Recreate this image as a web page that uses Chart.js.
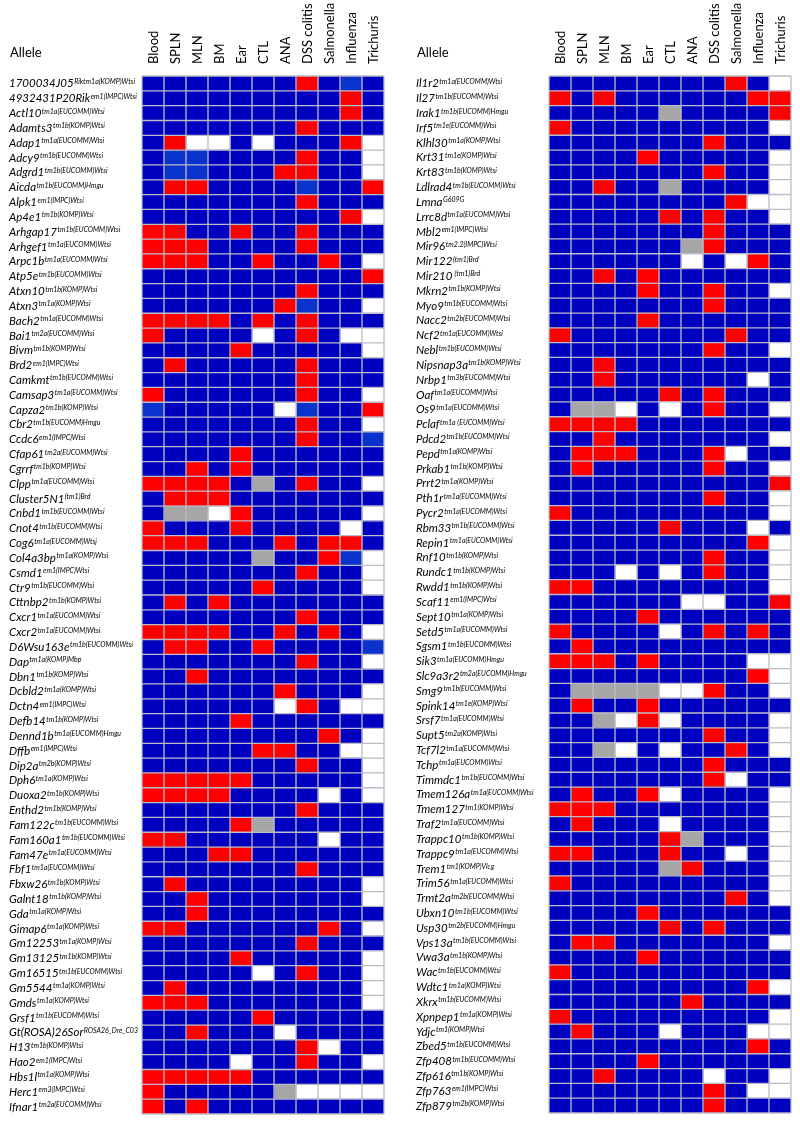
<!DOCTYPE html>
<html>
<head>
<meta charset="utf-8">
<script src="https://cdn.jsdelivr.net/npm/chart.js@4.4.1/dist/chart.umd.min.js"></script>
<style>
  body { margin: 0; background: #fff; width: 800px; height: 1131px; position: relative; overflow: hidden; }
  canvas { position: absolute; top: 0; }
  #leftChart { left: 0; }
  #rightChart { left: 400px; }
</style>
</head>
<body>
<canvas id="leftChart" width="392" height="1131"></canvas>
<canvas id="rightChart" width="400" height="1131"></canvas>
<script>
// phenotype screens (columns)
const columns = ["Blood", "SPLN", "MLN", "BM", "Ear", "CTL", "ANA", "DSS colitis", "Salmonella", "Influenza", "Trichuris"];

// call codes: B = no hit, R = hit, L = borderline, G = grey, W = not done
const callColors = {
    B: "#0000c0",
    R: "#ff0000",
    L: "#0a32cc",
    G: "#a6a6a6",
    W: "#ffffff",
};

const leftGenes = ["1700034J05", "4932431P20Rik", "Actl10", "Adamts3", "Adap1", "Adcy9", "Adgrd1", "Aicda", "Alpk1", "Ap4e1",
    "Arhgap17", "Arhgef1", "Arpc1b", "Atp5e", "Atxn10", "Atxn3", "Bach2", "Bai1", "Bivm", "Brd2",
    "Camkmt", "Camsap3", "Capza2", "Cbr2", "Ccdc6", "Cfap61", "Cgrrf", "Clpp", "Cluster5N1", "Cnbd1",
    "Cnot4", "Cog6", "Col4a3bp", "Csmd1", "Ctr9", "Cttnbp2", "Cxcr1", "Cxcr2", "D6Wsu163e", "Dap",
    "Dbn1", "Dcbld2", "Dctn4", "Defb14", "Dennd1b", "Dffb", "Dip2a", "Dph6", "Duoxa2", "Enthd2",
    "Fam122c", "Fam160a1", "Fam47e", "Fbf1", "Fbxw26", "Galnt18", "Gda", "Gimap6", "Gm12253", "Gm13125",
    "Gm16515", "Gm5544", "Gmds", "Grsf1", "Gt(ROSA)26Sor", "H13", "Hao2", "Hbs1l", "Herc1", "Ifnar1"];

const leftAlleles = ["Riktm1a(KOMP)Wtsi", "em1(IMPC)Wtsi", "tm1a(EUCOMM)Wtsi", "tm1b(KOMP)Wtsi", "tm1a(EUCOMM)Wtsi",
    "tm1b(EUCOMM)Wtsi", "tm1b(EUCOMM)Wtsi", "tm1b(EUCOMM)Hmgu", "em1(IMPC)Wtsi", "tm1b(KOMP)Wtsi",
    "tm1b(EUCOMM)Wtsi", "tm1a(EUCOMM)Wtsi", "tm1a(EUCOMM)Wtsi", "tm1b(EUCOMM)Wtsi", "tm1b(KOMP)Wtsi",
    "tm1a(KOMP)Wtsi", "tm1a(EUCOMM)Wtsi", "tm2a(EUCOMM)Wtsi", "tm1b(KOMP)Wtsi", "em1(IMPC)Wtsi",
    "tm1b(EUCOMM)Wtsi", "tm1a(EUCOMM)Wtsi", "tm1b(KOMP)Wtsi", "tm1b(EUCOMM)Hmgu", "em1(IMPC)Wtsi",
    "tm2a(EUCOMM)Wtsi", "tm1b(KOMP)Wtsi", "tm1a(EUCOMM)Wtsi", "(tm1)Brd", "tm1b(EUCOMM)Wtsi",
    "tm1b(EUCOMM)Wtsi", "tm1a(EUCOMM)Wtsj", "tm1a(KOMP)Wtsi", "em1(IMPC)Wtsi", "tm1b(EUCOMM)Wtsi",
    "tm1b(KOMP)Wtsi", "tm1a(EUCOMM)Wtsi", "tm1a(EUCOMM)Wtsi", "tm1b(EUCOMM)Wtsi", "tm1a(KOMP)Mbp",
    "tm1b(KOMP)Wtsi", "tm1a(KOMP)Wtsi", "em1(IMPC)Wtsi", "tm1b(KOMP)Wtsi", "tm1a(EUCOMM)Hmgu",
    "em1(IMPC)Wtsi", "tm2b(KOMP)Wtsi", "tm1a(KOMP)Wtsi", "tm1b(KOMP)Wtsi", "tm1b(KOMP)Wtsi",
    "tm1b(EUCOMM)Wtsi", "tm1b(EUCOMM)Wtsi", "tm1a(EUCOMM)Wtsi", "tm1a(EUCOMM)Wtsi", "tm1b(KOMP)Wtsi",
    "tm1b(KOMP)Wtsi", "tm1a(KOMP)Wtsi", "tm1a(KOMP)Wtsi", "tm1a(KOMP)Wtsi", "tm1b(KOMP)Wtsi",
    "tm1b(EUCOMM)Wtsi", "tm1a(KOMP)Wtsi", "tm1a(KOMP)Wtsi", "tm1b(EUCOMM)Wtsi", "ROSA26_Dre_C03",
    "tm1b(KOMP)Wtsi", "em1(IMPC)Wtsi", "tm1a(KOMP)Wtsi", "em3(IMPC)Wtsi", "tm2a(EUCOMM)Wtsi"];

const leftCalls = [
    "BBBBBBBRBLB", "BBBBBBBBBRB", "BBBBBBBBBRB", "BBBBBBBRBBB", "BRWWBWBBBRW",
    "BLLBBBBRBBW", "BLLBBBRRBBW", "BRRBBBBLBBR", "BBBBBBBRBBB", "BBBBBBBBBRW",
    "RRBBRBBRBBB", "RRRBBBBRBBB", "RRRBBRBBRBW", "BBBBBBBBBBR", "BBBBBBBRBBB",
    "BBBBBBRLBBW", "RRRRBRBRBBB", "RBBBBWBRBWW", "BBBBRBBBBBW", "BRBBBBBRBBB",
    "BBBBBBBRBBB", "RBBBBBBRBBW", "LBBBBBWLBBR", "BBBBBBBRBBW", "BBBBBBBRBBL",
    "BBBBRBBBBBB", "BBRBRBBBBBB", "RRRRBGBRBBW", "BRRRBBBBBBB", "BGGWRBBBBBW",
    "RBBBRBBBBWB", "RRRBBBRBRRB", "BBBBBGBBRLW", "BBBBBBBRBBW", "BBBBBRBBBBW",
    "BRBRBBBBBBB", "BBBBBBBRBBB", "RRRRBBRBRBW", "BRRBBRBBBBL", "BBBBBBBRBBW",
    "BBRBBBBBBBB", "BBBBBBRBBBW", "BBBBBBWRBWW", "BBBBRBBBBBB", "BBBBBBBBRBW",
    "BBBBBRRBBWW", "BBBBBBBRBBW", "RRRRRBBBBBW", "RRRRBBBBWBW", "BBBBBBBRBBB",
    "BBBBRGBBBBB", "RRBBBBBBWBB", "BBBRRBBBBBB", "BBBBBBBRBBB", "BRBBBBBBBBW",
    "BBRBBBBBBBW", "BBRBBBBBBBB", "RRBBBBBBRBW", "BBBBBBBRBBB", "BBBBRBBBBBW",
    "BBBBBWBRBBW", "BRBBBBBBBBW", "RRRBBBBBBBW", "BBBBBRBBBBB", "BBRBBBWBBBB",
    "BBBBBBBRWBB", "BBBBWBBRBBW", "RRRRRBBBBBB", "RBBBBBGWWWW", "RBRBBBBBBBB"];

const rightGenes = ["Il1r2", "Il27", "Irak1", "Irf5", "Klhl30", "Krt31", "Krt83", "Ldlrad4", "Lmna", "Lrrc8d",
    "Mbl2", "Mir96", "Mir122", "Mir210", "Mkrn2", "Myo9", "Nacc2", "Ncf2", "Nebl", "Nipsnap3a",
    "Nrbp1", "Oaf", "Os9", "Pclaf", "Pdcd2", "Pepd", "Prkab1", "Prrt2", "Pth1r", "Pycr2",
    "Rbm33", "Repin1", "Rnf10", "Rundc1", "Rwdd1", "Scaf11", "Sept10", "Setd5", "Sgsm1", "Sik3",
    "Slc9a3r2", "Smg9", "Spink14", "Srsf7", "Supt5", "Tcf7l2", "Tchp", "Timmdc1", "Tmem126a", "Tmem127",
    "Traf2", "Trappc10", "Trappc9", "Trem1", "Trim56", "Trmt2a", "Ubxn10", "Usp30", "Vps13a", "Vwa3a",
    "Wac", "Wdtc1", "Xkrx", "Xpnpep1", "Ydjc", "Zbed5", "Zfp408", "Zfp616", "Zfp763", "Zfp879"];

const rightAlleles = ["tm1a(EUCOMM)Wtsi", "tm1b(EUCOMM)Wtsi", "tm1b(EUCOMM)Hmgu", "tm1e(EUCOMM)Wtsi", "tm1a(KOMP)Wtsi",
    "tm1e(KOMP)Wtsi", "tm1b(KOMP)Wtsi", "tm1b(EUCOMM)Wtsi", "G609G", "tm1a(EUCOMM)Wtsi",
    "em1(IMPC)Wtsi", "tm2.2(IMPC)Wtsi", "(tm1)Brd", " (tm1)Brd", "tm1b(KOMP)Wtsi",
    "tm1b(EUCOMM)Wtsi", "tm2b(EUCOMM)Wtsi", "tm1a(EUCOMM)Wtsi", "tm1b(EUCOMM)Wtsi", "tm1b(KOMP)Wtsi",
    "tm3b(EUCOMM)Wtsi", "tm1a(EUCOMM)Wtsi", "tm1a(EUCOMM)Wtsi", "tm1a (EUCOMM)Wtsi", "tm1b(EUCOMM)Wtsi",
    "tm1a(KOMP)Wtsi", "tm1b(KOMP)Wtsi", "tm1a(KOMP)Wtsi", "tm1a(EUCOMM)Wtsi", "tm1a(EUCOMM)Wtsi",
    "tm1b(EUCOMM)Wtsi", "tm1a(EUCOMM)Wtsi", "tm1b(KOMP)Wtsi", "tm1b(KOMP)Wtsi", "tm1b(KOMP)Wtsi",
    "em1(IMPC)Wtsi", "tm1a(KOMP)Wtsi", "tm1a(EUCOMM)Wtsi", "tm1b(EUCOMM)Wtsi", "tm1a(EUCOMM)Hmgu",
    "tm2a(EUCOMM)Hmgu", "tm1b(EUCOMM)Wtsi", "tm1e(KOMP)Wtsi", "tm1a(EUCOMM)Wtsi", "tm2a(KOMP)Wtsi",
    "tm1a(EUCOMM)Wtsi", "tm1a(EUCOMM)Wtsi", "tm1b(EUCOMM)Wtsi", "tm1a(EUCOMM)Wtsi", "tm1(KOMP)Wtsi",
    "tm1a(EUCOMM)Wtsi", "tm1b(KOMP)Wtsi", "tm1a(EUCOMM)Wtsi", "tm1(KOMP)Vlcg", "tm1a(EUCOMM)Wtsi",
    "tm2b(EUCOMM)Wtsi", "tm1b(EUCOMM)Wtsi", "tm2b(EUCOMM)Hmgu", "tm1b(EUCOMM)Wtsi", "tm1b(KOMP)Wtsi",
    "tm1b(EUCOMM)Wtsi", "tm1a(KOMP)Wtsi", "tm1b(EUCOMM)Wtsi", "tm1a(KOMP)Wtsi", "tm1(KOMP)Wtsi",
    "tm1b(EUCOMM)Wtsi", "tm1b(EUCOMM)Wtsi", "tm1b(KOMP)Wtsi", "em1(IMPC)Wtsi", "tm2b(KOMP)Wtsi"];

const rightCalls = [
    "BBBBBBBBRBW", "RBRBBBBBBRR", "BBBBBGBBBBR", "RBBBBBBBBBW", "BBBBBBBRBBB",
    "BBBBRBBBBBW", "BBBBBBBRBBW", "BBRBBGBBBBW", "BBBBBBBBRWW", "BBBBBRBRBBW",
    "BBBBBBBRBBB", "BBBBBBGRBBB", "BBBBBBWBWRB", "BBRBRBBBBBB", "BBBBRBBRBBW",
    "BBBBBBBRBBB", "BBBBRBBBBBB", "RBBBBBBBRBB", "BBBBBBBRBBW", "BBRBBBBBBBB",
    "BBRBBBBBBWB", "BBBBBRBRBBB", "BGGWBWBRBBW", "RRRRBBBBBBB", "BBRBBBBBBBW",
    "BRRRBBBRWBB", "BRBBBBBRBBW", "BBBBBBBBBBR", "BBBBBBBRBBW", "RBBBBBBBBBW",
    "BBBBBRBBBWB", "BBBBBBBBBRW", "BBBBBBBRBBW", "BBBWBWBRBBW", "RRBBBBBBBBW",
    "BBBBBBWWBBR", "BBBBRBBBBBB", "RBBBBWBRBRB", "BRBBBBBBBBB", "RRRBRBBBBWW",
    "BBBBBBBBBRW", "BGGGGWWRBBW", "BRBBRBBBBBB", "BBGWRWBBBBW", "BBBBBBBRBBW",
    "BBGWBWBBRBW", "BBBBBBBRBBB", "BBBBBBBRWBB", "BRBBRWBBBBW", "RRRBBBBBBBW",
    "BRBBBWBBBBW", "BBBBBRGBBBW", "RRBBBRBBWBW", "BBBBBGRBBBW", "RBBBBBBBBBW",
    "BBBBBBBBRBW", "BBBBRBBBBBB", "BBBBBRBRBBB", "BRRBBBBBBBW", "BBBBRBBBBBB",
    "RBBBBBBBBBB", "BBBBBBBBBRW", "BBBBBBRBBBB", "RBBBBBBBBBW", "BRBBBWBBBWW",
    "BBBBBBBBBRB", "BBBBRBBBBBB", "BBRBBBBWBBW", "BBBBBBBRBWW", "BBBBBBBRBBB"];

const gridColor = "#bcbcc8";

// cell borders, drawn over the bars from the scales' own pixel positions
const cellGridPlugin = {
    id: "cellGrid",
    afterDatasetsDraw(chart) {
        const ctx = chart.ctx;
        const { top, bottom, left, right } = chart.chartArea;
        const xs = chart.scales.x;
        const ys = chart.scales.y;
        const n = chart.data.labels.length;
        ctx.save();
        ctx.strokeStyle = gridColor;
        ctx.lineWidth = 1.3;
        ctx.beginPath();
        for (let k = 0; k <= columns.length; k++) {
            const px = xs.getPixelForValue(k);
            ctx.moveTo(px, top);
            ctx.lineTo(px, bottom);
        }
        for (let i = 0; i <= n; i++) {
            const py = ys.getPixelForValue(i - 0.5);
            ctx.moveTo(left, py);
            ctx.lineTo(right, py);
        }
        ctx.stroke();
        ctx.restore();
    },
};

// gene names (italic) with the allele as superscript
const rowLabelPlugin = {
    id: "rowLabels",
    afterDraw(chart, args, opts) {
        const ctx = chart.ctx;
        const yScale = chart.scales.y;
        const maxW = chart.chartArea.left - opts.x - 4;
        ctx.save();
        ctx.fillStyle = "#000";
        ctx.textBaseline = "alphabetic";
        ctx.textAlign = "left";
        opts.genes.forEach((g, i) => {
            const py = yScale.getPixelForValue(i);
            ctx.font = "italic 11.5px Lato";
            const w = ctx.measureText(g).width;
            ctx.font = "italic 7px Lato";
            const ws = ctx.measureText(opts.alleles[i]).width;
            const sx = Math.min(1, maxW / (w + ws + 0.5));
            ctx.save();
            ctx.translate(opts.x, 0);
            ctx.scale(sx, 1);
            ctx.font = "italic 11.5px Lato";
            ctx.fillText(g, 0, py + 4);
            ctx.font = "italic 7px Lato";
            ctx.fillText(opts.alleles[i], w + 0.5, py + 0.5);
            ctx.restore();
        });
        ctx.restore();
    },
};

// rotated column headers plus the "Allele" title
const headerPlugin = {
    id: "headers",
    afterDraw(chart, args, opts) {
        const ctx = chart.ctx;
        const xScale = chart.scales.x;
        ctx.save();
        ctx.fillStyle = "#000";
        ctx.font = "13px Lato";
        ctx.textAlign = "left";
        ctx.textBaseline = "alphabetic";
        ctx.fillText("Allele", opts.x, 57);
        columns.forEach((c, j) => {
            const px = xScale.getPixelForValue(j + 0.5);
            ctx.save();
            ctx.translate(px + 4.5, 64);
            ctx.rotate(-Math.PI / 2);
            ctx.fillText(c, 0, 0);
            ctx.restore();
        });
        ctx.restore();
    },
};

function buildHeatmap(canvasId, genes, alleles, calls, padding, labelX) {
    const ctx = document.getElementById(canvasId).getContext("2d");

    const datasets = columns.map((col, j) => ({
        label: col,
        data: genes.map(() => 1),
        backgroundColor: calls.map((row) => callColors[row[j]]),
        borderWidth: 0,
        barPercentage: 1,
        categoryPercentage: 1,
    }));

    return new Chart(ctx, {
        type: "bar",
        data: { labels: genes, datasets },
        options: {
            indexAxis: "y",
            responsive: false,
            animation: false,
            layout: { padding },
            scales: {
                x: {
                    type: "linear",
                    stacked: true,
                    min: 0,
                    max: columns.length,
                    ticks: { display: false, stepSize: 1 },
                    grid: { display: false },
                    border: { display: false },
                },
                y: {
                    stacked: true,
                    ticks: { display: false },
                    grid: { display: false },
                    border: { display: false },
                },
            },
            plugins: {
                legend: { display: false },
                tooltip: { enabled: false },
                rowLabels: { genes, alleles, x: labelX },
                headers: { x: labelX + 1 },
            },
        },
        plugins: [cellGridPlugin, rowLabelPlugin, headerPlugin],
    });
}

buildHeatmap("leftChart", leftGenes, leftAlleles, leftCalls, { left: 134, top: 76, right: 8, bottom: 9 }, 9);
buildHeatmap("rightChart", rightGenes, rightAlleles, rightCalls, { left: 141, top: 76, right: 9, bottom: 10 }, 16);
</script>
</body>
</html>
